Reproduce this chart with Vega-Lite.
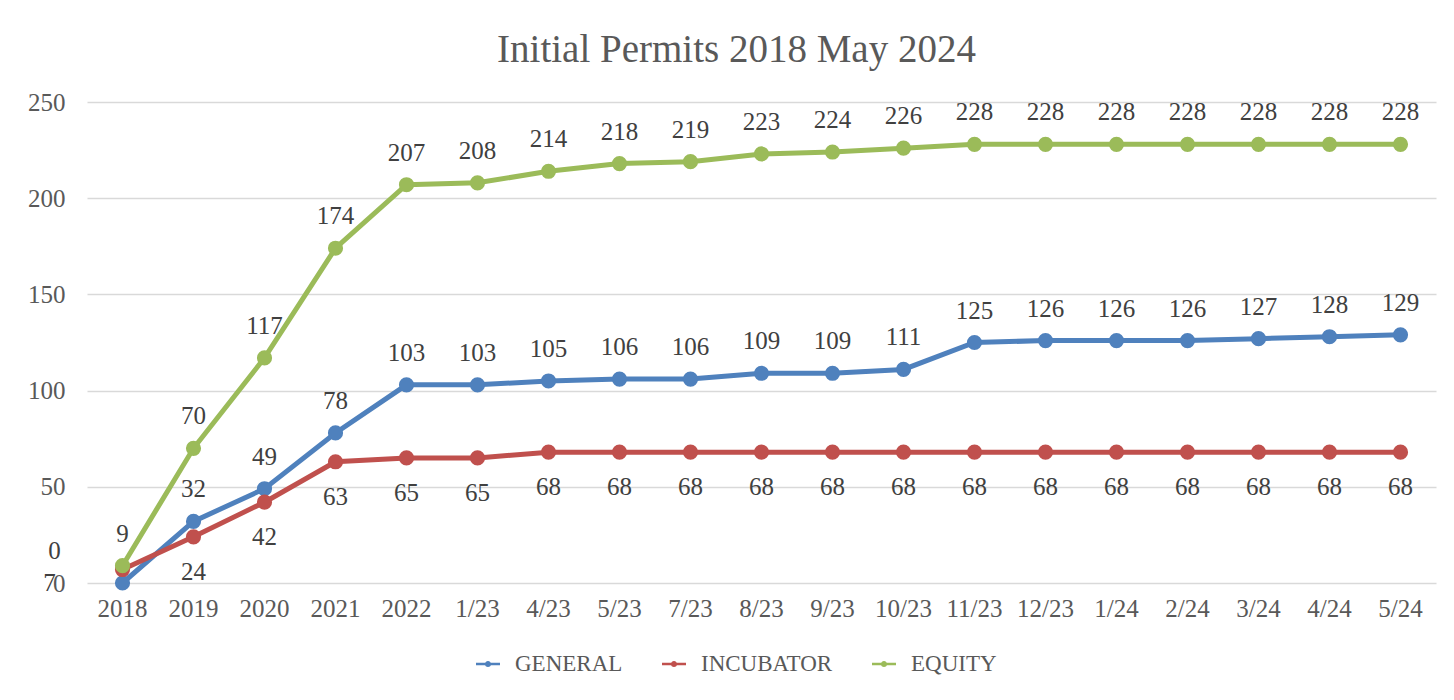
{
  "$schema": "https://vega.github.io/schema/vega-lite/v6.json",
  "width": 1349,
  "height": 481,
  "autosize": {"type": "none"},
  "padding": {"left": 87, "top": 102, "right": 18, "bottom": 117},
  "background": "white",
  "title": {
    "text": "Initial Permits 2018 May 2024",
    "font": "Liberation Serif",
    "fontSize": 39,
    "fontWeight": "normal",
    "color": "#595959",
    "anchor": "middle",
    "dx": -25,
    "offset": 20
  },
  "data": {
    "values": [
      {"period": "2018", "series": "GENERAL", "value": 0},
      {"period": "2019", "series": "GENERAL", "value": 32},
      {"period": "2020", "series": "GENERAL", "value": 49},
      {"period": "2021", "series": "GENERAL", "value": 78},
      {"period": "2022", "series": "GENERAL", "value": 103},
      {"period": "1/23", "series": "GENERAL", "value": 103},
      {"period": "4/23", "series": "GENERAL", "value": 105},
      {"period": "5/23", "series": "GENERAL", "value": 106},
      {"period": "7/23", "series": "GENERAL", "value": 106},
      {"period": "8/23", "series": "GENERAL", "value": 109},
      {"period": "9/23", "series": "GENERAL", "value": 109},
      {"period": "10/23", "series": "GENERAL", "value": 111},
      {"period": "11/23", "series": "GENERAL", "value": 125},
      {"period": "12/23", "series": "GENERAL", "value": 126},
      {"period": "1/24", "series": "GENERAL", "value": 126},
      {"period": "2/24", "series": "GENERAL", "value": 126},
      {"period": "3/24", "series": "GENERAL", "value": 127},
      {"period": "4/24", "series": "GENERAL", "value": 128},
      {"period": "5/24", "series": "GENERAL", "value": 129},
      {"period": "2018", "series": "INCUBATOR", "value": 7},
      {"period": "2019", "series": "INCUBATOR", "value": 24},
      {"period": "2020", "series": "INCUBATOR", "value": 42},
      {"period": "2021", "series": "INCUBATOR", "value": 63},
      {"period": "2022", "series": "INCUBATOR", "value": 65},
      {"period": "1/23", "series": "INCUBATOR", "value": 65},
      {"period": "4/23", "series": "INCUBATOR", "value": 68},
      {"period": "5/23", "series": "INCUBATOR", "value": 68},
      {"period": "7/23", "series": "INCUBATOR", "value": 68},
      {"period": "8/23", "series": "INCUBATOR", "value": 68},
      {"period": "9/23", "series": "INCUBATOR", "value": 68},
      {"period": "10/23", "series": "INCUBATOR", "value": 68},
      {"period": "11/23", "series": "INCUBATOR", "value": 68},
      {"period": "12/23", "series": "INCUBATOR", "value": 68},
      {"period": "1/24", "series": "INCUBATOR", "value": 68},
      {"period": "2/24", "series": "INCUBATOR", "value": 68},
      {"period": "3/24", "series": "INCUBATOR", "value": 68},
      {"period": "4/24", "series": "INCUBATOR", "value": 68},
      {"period": "5/24", "series": "INCUBATOR", "value": 68},
      {"period": "2018", "series": "EQUITY", "value": 9},
      {"period": "2019", "series": "EQUITY", "value": 70},
      {"period": "2020", "series": "EQUITY", "value": 117},
      {"period": "2021", "series": "EQUITY", "value": 174},
      {"period": "2022", "series": "EQUITY", "value": 207},
      {"period": "1/23", "series": "EQUITY", "value": 208},
      {"period": "4/23", "series": "EQUITY", "value": 214},
      {"period": "5/23", "series": "EQUITY", "value": 218},
      {"period": "7/23", "series": "EQUITY", "value": 219},
      {"period": "8/23", "series": "EQUITY", "value": 223},
      {"period": "9/23", "series": "EQUITY", "value": 224},
      {"period": "10/23", "series": "EQUITY", "value": 226},
      {"period": "11/23", "series": "EQUITY", "value": 228},
      {"period": "12/23", "series": "EQUITY", "value": 228},
      {"period": "1/24", "series": "EQUITY", "value": 228},
      {"period": "2/24", "series": "EQUITY", "value": 228},
      {"period": "3/24", "series": "EQUITY", "value": 228},
      {"period": "4/24", "series": "EQUITY", "value": 228},
      {"period": "5/24", "series": "EQUITY", "value": 228}
    ]
  },
  "encoding": {
    "x": {
      "field": "period",
      "type": "ordinal",
      "sort": null,
      "scale": {"type": "band", "paddingInner": 0, "paddingOuter": 0},
      "axis": {
        "title": null,
        "labelAngle": 0,
        "domain": false,
        "ticks": false,
        "grid": false,
        "labelFont": "Liberation Serif",
        "labelFontSize": 25,
        "labelColor": "#595959",
        "labelPadding": 13
      }
    },
    "y": {
      "field": "value",
      "type": "quantitative",
      "scale": {"domain": [0, 250], "nice": false},
      "axis": {
        "title": null,
        "values": [0, 50, 100, 150, 200, 250],
        "domain": false,
        "ticks": false,
        "grid": true,
        "gridColor": "#d9d9d9",
        "gridWidth": 1.5,
        "labelFont": "Liberation Serif",
        "labelFontSize": 25,
        "labelColor": "#595959",
        "labelPadding": 22
      }
    },
    "color": {
      "field": "series",
      "type": "nominal",
      "scale": {"domain": ["GENERAL", "INCUBATOR", "EQUITY"], "range": ["#4F81BD", "#C0504D", "#9BBB59"]},
      "legend": {
        "title": null,
        "orient": "none",
        "direction": "horizontal",
        "legendX": 377,
        "legendY": 538,
        "symbolType": "M-0.5,-0.05H0.5V0.05H-0.5Z M0.13,0 A0.13,0.13 0 1 1 -0.13,0 A0.13,0.13 0 1 1 0.13,0Z",
        "symbolSize": 2304,
        "symbolOpacity": 1,
        "symbolStrokeWidth": 0,
        "labelFont": "Liberation Serif",
        "labelFontSize": 23,
        "labelColor": "#595959",
        "labelOffset": 3,
        "columnPadding": 27
      }
    }
  },
  "layer": [
    {
      "mark": {"type": "point", "filled": true, "opacity": 0, "size": 10, "shape": "M-0.5,-0.05H0.5V0.05H-0.5Z M0.13,0 A0.13,0.13 0 1 1 -0.13,0 A0.13,0.13 0 1 1 0.13,0Z"}
    },
    {
      "mark": {"type": "line", "strokeWidth": 5}
    },
    {
      "mark": {"type": "point", "filled": true, "size": 230, "opacity": 1}
    },
    {
      "transform": [{"filter": "datum.series != 'INCUBATOR' && !(datum.series == 'GENERAL' && datum.period == '2018')"}],
      "mark": {"type": "text", "dy": -32, "font": "Liberation Serif", "fontSize": 25, "color": "#404040"},
      "encoding": {"text": {"field": "value", "type": "quantitative"}, "color": {"value": "#404040"}}
    },
    {
      "transform": [{"filter": "datum.series == 'INCUBATOR' && datum.period != '2018'"}],
      "mark": {"type": "text", "dy": 35, "font": "Liberation Serif", "fontSize": 25, "color": "#404040"},
      "encoding": {"text": {"field": "value", "type": "quantitative"}, "color": {"value": "#404040"}}
    },
    {
      "transform": [{"filter": "datum.series == 'GENERAL' && datum.period == '2018'"}],
      "mark": {"type": "text", "dx": -68, "dy": -32, "font": "Liberation Serif", "fontSize": 25, "color": "#404040"},
      "encoding": {"text": {"field": "value", "type": "quantitative"}, "color": {"value": "#404040"}}
    },
    {
      "transform": [{"filter": "datum.series == 'INCUBATOR' && datum.period == '2018'"}],
      "mark": {"type": "text", "dx": -73, "dy": 13, "font": "Liberation Serif", "fontSize": 25, "color": "#404040"},
      "encoding": {"text": {"field": "value", "type": "quantitative"}, "color": {"value": "#404040"}}
    }
  ],
  "config": {
    "view": {"stroke": null},
    "text": {"baseline": "middle"}
  }
}
